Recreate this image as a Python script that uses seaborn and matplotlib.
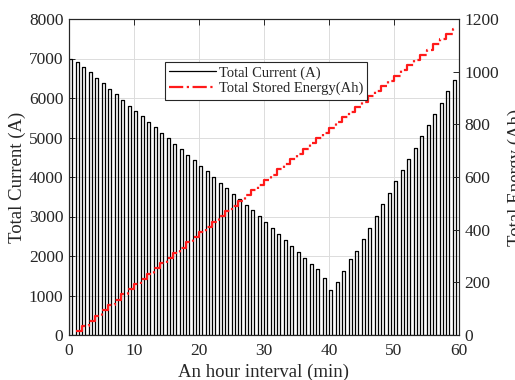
import numpy as np
import pandas as pd
import seaborn as sns
import matplotlib.pyplot as plt

# --- data ---
minutes = list(range(60))
current = [7000, 6900, 6790, 6650, 6510, 6370, 6230, 6090, 5950, 5810,
           5680, 5540, 5400, 5260, 5120, 4980, 4840, 4700, 4560, 4420,
           4280, 4140, 4000, 3860, 3720, 3580, 3440, 3300, 3160, 3010,
           2860, 2710, 2560, 2410, 2260, 2110, 1960, 1810, 1660, 1450,
           1140, 1350, 1630, 1920, 2130, 2420, 2720, 3020, 3315, 3600,
           3890, 4170, 4460, 4740, 5030, 5320, 5600, 5880, 6170, 6450]

energy_min = list(range(1, 60))
energy = [15, 35, 55, 74, 94, 114, 134, 154, 173, 193,
          213, 233, 253, 272, 292, 312, 332, 352, 372, 391,
          411, 431, 451, 470, 490, 510, 530, 550, 569, 589,
          609, 629, 649, 668, 688, 708, 728, 748, 767, 787,
          807, 827, 847, 866, 886, 906, 926, 946, 965, 985,
          1005, 1025, 1045, 1064, 1084, 1104, 1124, 1144, 1163]

# --- pulse outline (each minute a pulse of half-minute width) ---
pulse_w = 0.5
px, py = [], []
for t, h in zip(minutes, current):
    px += [t, t, t + pulse_w, t + pulse_w]
    py += [0, h, h, 0]
pulses = pd.DataFrame({"t": px, "I": py})

en = pd.DataFrame({"t": energy_min + [energy_min[-1] + pulse_w],
                   "E": energy + [energy[-1]]})

sns.set_theme(style="whitegrid")
plt.rcParams["font.family"] = ["Liberation Serif", "DejaVu Serif"]
plt.rcParams["axes.edgecolor"] = "#262626"

fig = plt.figure(figsize=(5.15, 3.80), dpi=100)
ax = fig.add_axes([69 / 515, 45 / 380, 390 / 515, 316 / 380])
ax.set_facecolor("white")
ax2 = ax.twinx()

sns.lineplot(data=pulses, x="t", y="I", sort=False, estimator=None,
             color="black", lw=0.9, ax=ax, label="Total Current (A)", legend=False)
sns.lineplot(data=en, x="t", y="E", sort=False, estimator=None,
             color="#ff1a1a", lw=1.6, ls="-.", drawstyle="steps-post",
             ax=ax2, label="Total Stored Energy(Ah)", legend=False)

ax.set_xlim(0, 60)
ax.set_ylim(0, 8000)
ax2.set_ylim(0, 1200)
ax.set_xticks(range(0, 61, 10))
ax.set_yticks(range(0, 8001, 1000))
ax2.set_yticks(range(0, 1201, 200))

ax.grid(True, color="#dcdcdc", lw=0.7)
ax2.grid(False)
for a in (ax, ax2):
    for s in a.spines.values():
        s.set_color("#262626")
        s.set_linewidth(0.8)

ax.tick_params(axis="both", direction="in", length=4, width=0.7, labelsize=12.5,
               colors="#262626", top=True, right=False, left=True, bottom=True, pad=4)
ax.tick_params(axis="x", pad=6)
ax2.tick_params(axis="y", direction="in", length=4, width=0.7, labelsize=12.5,
                colors="#262626", right=True, pad=4)

ax.set_xlabel("An hour interval (min)", fontsize=13.5, color="#262626", labelpad=3)
ax.set_ylabel("Total Current (A)", fontsize=13.5, color="#262626", labelpad=2)
ax2.set_ylabel("Total Energy (Ah)", fontsize=13.5, color="#262626",
               rotation=90, labelpad=6)

h1, l1 = ax.get_legend_handles_labels()
h2, l2 = ax2.get_legend_handles_labels()
leg = ax2.legend(h1 + h2, l1 + l2, loc="upper left", bbox_to_anchor=(0.245, 0.865),
                 fontsize=10.5, frameon=True, fancybox=False, framealpha=1,
                 edgecolor="#262626", borderpad=0.3, labelspacing=0.15,
                 handlelength=3.2, handletextpad=0.2, borderaxespad=0)
leg.get_frame().set_linewidth(0.8)

fig.savefig("out.png", dpi=100)
plt.close(fig)
